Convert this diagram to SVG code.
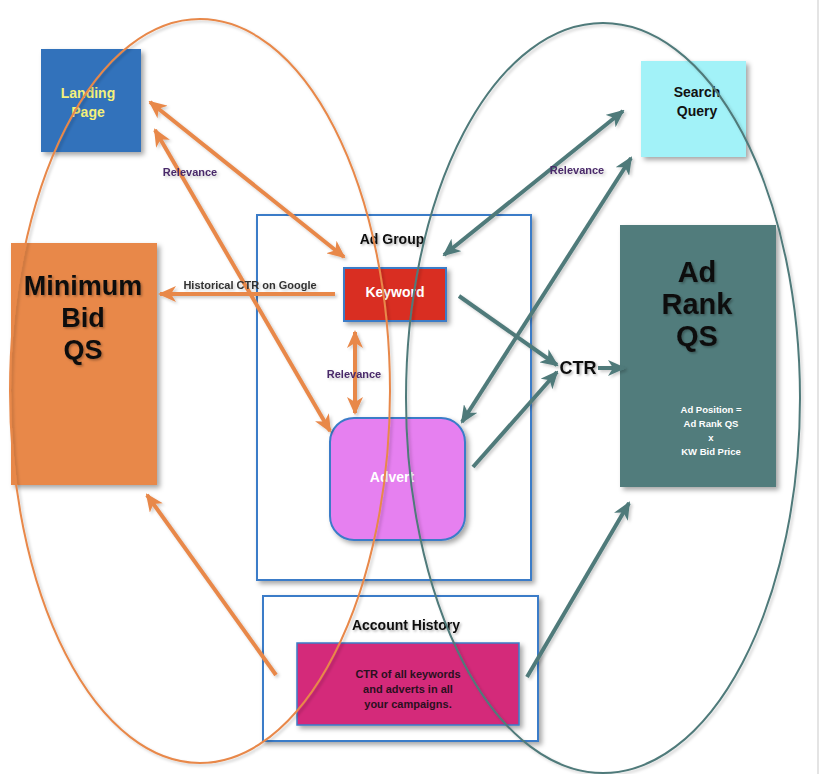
<svg xmlns="http://www.w3.org/2000/svg" width="824" height="774" viewBox="0 0 824 774">
<style>
.t{font-family:"Liberation Sans",Arial,sans-serif;font-weight:bold;text-anchor:middle}
.big{font-size:27px;fill:#111}
.rel{font-size:11px;fill:#4a2a6a}
.lbl{font-size:11px;fill:#333}
.oa{stroke:#e8884a;stroke-width:4;fill:none}
.ta{stroke:#4f7a7a;stroke-width:4;fill:none}
.grp{fill:#fff;stroke:#3a7cc8;stroke-width:2}
</style>
<defs>
<filter id="sh" x="-10%" y="-10%" width="130%" height="130%">
<feDropShadow dx="3" dy="3" stdDeviation="2.5" flood-color="#000" flood-opacity="0.35"/>
</filter>
<filter id="tsh" x="-10%" y="-20%" width="130%" height="150%">
<feDropShadow dx="1.5" dy="1.5" stdDeviation="1" flood-color="#000" flood-opacity="0.3"/>
</filter>
<filter id="lsh" x="-10%" y="-10%" width="120%" height="120%">
<feDropShadow dx="2" dy="2" stdDeviation="1.5" flood-color="#000" flood-opacity="0.2"/>
</filter>
<marker id="mo" markerUnits="userSpaceOnUse" markerWidth="18" markerHeight="16" viewBox="0 0 18 16" refX="16" refY="8" orient="auto-start-reverse">
<path d="M0,0 L18,8 L0,16 L5,8 z" fill="#e8884a"/>
</marker>
<marker id="mt" markerUnits="userSpaceOnUse" markerWidth="18" markerHeight="16" viewBox="0 0 18 16" refX="16" refY="8" orient="auto-start-reverse">
<path d="M0,0 L18,8 L0,16 L5,8 z" fill="#4f7a7a"/>
</marker>
</defs>
<rect width="824" height="774" fill="#fff"/>
<line x1="818" y1="0" x2="818" y2="774" stroke="#e4e4e4" stroke-width="2"/>

<g id="ad-group">
<rect class="grp" x="257" y="215" width="274" height="365" filter="url(#sh)"/>
<text class="t" x="392" y="244" font-size="14" fill="#111" filter="url(#tsh)">Ad Group</text>
</g>
<g id="account-history">
<rect class="grp" x="263" y="596" width="275" height="145" filter="url(#sh)"/>
<text class="t" x="406" y="630" font-size="14" fill="#111" filter="url(#tsh)">Account History</text>
</g>
<g id="landing-page">
<rect x="41" y="49" width="100" height="103" fill="#3272bb" filter="url(#sh)"/>
<text class="t" x="88" y="98" font-size="14" fill="#f4f07a">Landing</text>
<text class="t" x="88" y="117" font-size="14" fill="#f4f07a">Page</text>
</g>
<g id="search-query">
<rect x="641" y="61" width="105" height="96" fill="#a2f2f8" filter="url(#sh)"/>
<text class="t" x="697" y="97" font-size="14" fill="#111">Search</text>
<text class="t" x="697" y="116" font-size="14" fill="#111">Query</text>
</g>
<g id="minimum-bid-qs">
<rect x="11" y="243" width="146" height="242" fill="#e8884a" filter="url(#sh)"/>
<text class="t big" x="83" y="295" filter="url(#tsh)">Minimum</text>
<text class="t big" x="83" y="327" filter="url(#tsh)">Bid</text>
<text class="t big" x="83" y="359" filter="url(#tsh)">QS</text>
</g>
<g id="ad-rank-qs">
<rect x="620" y="225" width="156" height="262" fill="#517b7b" filter="url(#sh)"/>
<text class="t" x="697" y="282" font-size="29" fill="#111" filter="url(#tsh)">Ad</text>
<text class="t" x="697" y="314" font-size="29" fill="#111" filter="url(#tsh)">Rank</text>
<text class="t" x="697" y="346" font-size="29" fill="#111" filter="url(#tsh)">QS</text>
<text class="t" x="711" y="413" font-size="9.5" fill="#fff">Ad Position =</text>
<text class="t" x="711" y="427" font-size="9.5" fill="#fff">Ad Rank QS</text>
<text class="t" x="711" y="441" font-size="9.5" fill="#fff">x</text>
<text class="t" x="711" y="455" font-size="9.5" fill="#fff">KW Bid Price</text>
</g>
<g id="keyword">
<rect x="344" y="268" width="102" height="53" fill="#d92e20" stroke="#3a7cc8" stroke-width="2" filter="url(#sh)"/>
<text class="t" x="395" y="297" font-size="14" fill="#fff">Keyword</text>
</g>
<g id="advert">
<rect x="330" y="418" width="135" height="122" rx="24" fill="#e680f0" stroke="#3a7cc8" stroke-width="2" filter="url(#sh)"/>
<text class="t" x="392" y="482" font-size="14" fill="#fff">Advert</text>
</g>
<g id="ctr-history">
<rect x="297" y="643" width="222" height="82" fill="#d42b7a" stroke="#3a7cc8" stroke-width="1.5" filter="url(#sh)"/>
<text class="t" x="408" y="678" font-size="11" fill="#2a1020">CTR of all keywords</text>
<text class="t" x="408" y="693" font-size="11" fill="#2a1020">and adverts in all</text>
<text class="t" x="408" y="708" font-size="11" fill="#2a1020">your campaigns.</text>
</g>
<g id="ctr">
<text class="t" x="578" y="374" font-size="18" fill="#111" filter="url(#tsh)">CTR</text>
</g>

<g id="connectors" filter="url(#lsh)">
<line class="oa" x1="150" y1="102" x2="344" y2="257" marker-start="url(#mo)" marker-end="url(#mo)"/>
<line class="oa" x1="155" y1="130" x2="330" y2="431" marker-start="url(#mo)" marker-end="url(#mo)"/>
<line class="oa" x1="335" y1="294" x2="160" y2="294" marker-end="url(#mo)"/>
<line class="oa" x1="355" y1="332" x2="355" y2="413" marker-start="url(#mo)" marker-end="url(#mo)"/>
<line class="oa" x1="276" y1="675" x2="147" y2="495" marker-end="url(#mo)"/>
<line class="ta" x1="623" y1="111" x2="444" y2="255" marker-start="url(#mt)" marker-end="url(#mt)"/>
<line class="ta" x1="631" y1="158" x2="462" y2="422" marker-start="url(#mt)" marker-end="url(#mt)"/>
<line class="ta" x1="459" y1="296" x2="557" y2="365" marker-end="url(#mt)"/>
<line class="ta" x1="473" y1="467" x2="557" y2="372" marker-end="url(#mt)"/>
<line class="ta" x1="598" y1="368" x2="624" y2="368" marker-end="url(#mt)"/>
<line class="ta" x1="527" y1="677" x2="629" y2="503" marker-end="url(#mt)"/>
<ellipse cx="200" cy="391" rx="190" ry="372" fill="none" stroke="#e8884a" stroke-width="2"/>
<ellipse cx="603" cy="398" rx="197" ry="375" fill="none" stroke="#4f7a7a" stroke-width="2"/>
<text class="t rel" x="190" y="176">Relevance</text>
<text class="t rel" x="577" y="174">Relevance</text>
<text class="t rel" x="354" y="378">Relevance</text>
<text class="t lbl" x="250" y="289">Historical CTR on Google</text>
</g>
</svg>
